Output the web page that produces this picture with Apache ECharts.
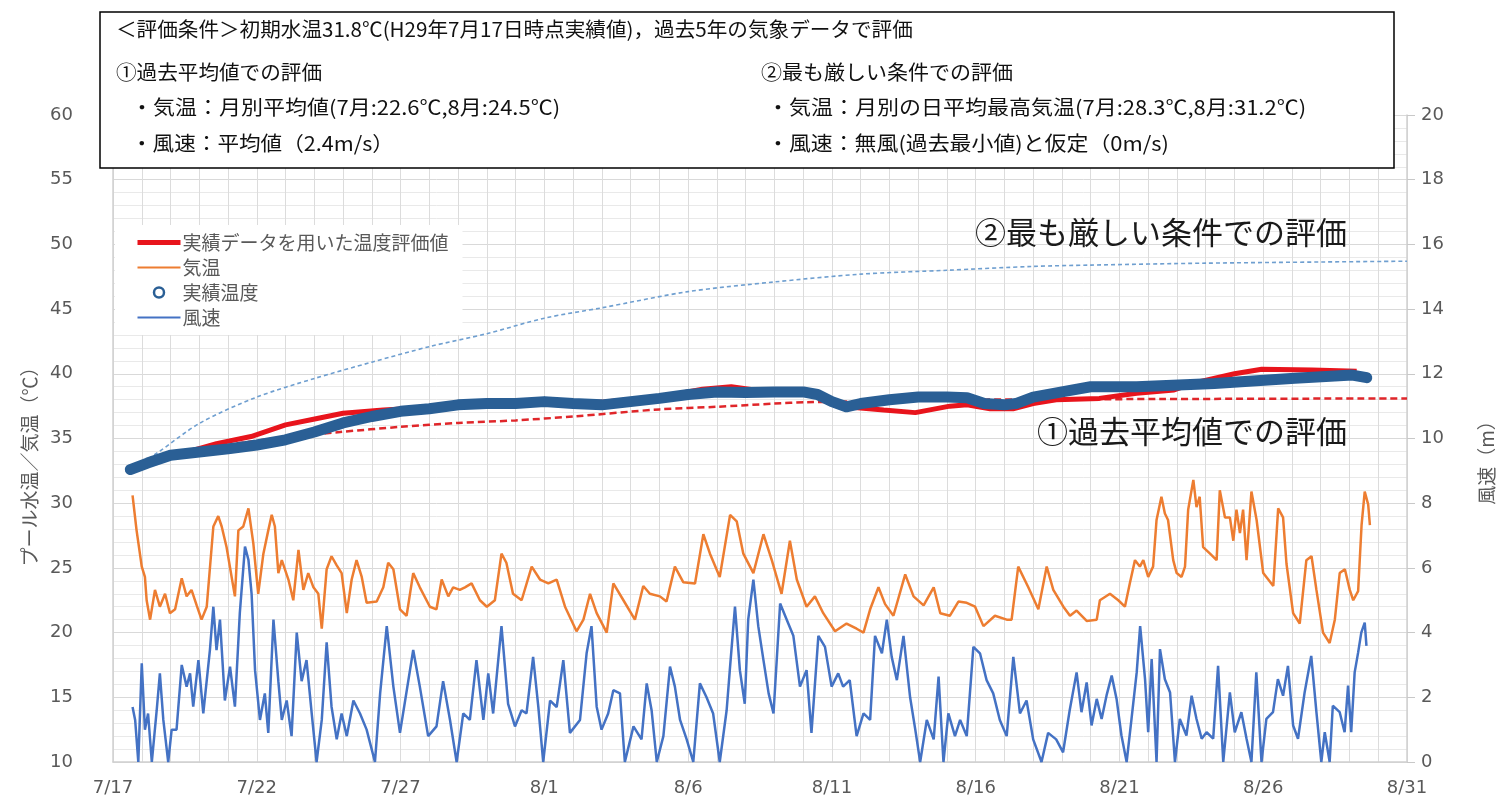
<!DOCTYPE html>
<html><head><meta charset="utf-8">
<script src="https://cdn.jsdelivr.net/npm/echarts@6/dist/echarts.min.js"></script>
<style>html,body{margin:0;padding:0;background:#fff}#c{width:1503px;height:811px}</style>
</head><body><div id="c"></div>
<script>
// x = days since 7/17
const tickLabels = ['7/17','7/22','7/27','8/1','8/6','8/11','8/16','8/21','8/26','8/31'];

const actualTemp = [[0.6,32.6],[1.2,33.1],[2.0,33.7],[3.0,33.95],[4.0,34.2],[5,34.5],[6,34.9],[7,35.5],[8,36.2],[9,36.7],[10,37.1],[11,37.3],[12,37.6],[13,37.7],[14,37.7],[15,37.85],[16,37.7],[17,37.6],[18,37.85],[19,38.1],[20,38.4],[21,38.6],[22,38.55],[23,38.6],[24,38.6],[24.5,38.4],[25,37.85],[25.5,37.45],[26,37.7],[27,38.0],[28,38.2],[29,38.2],[29.7,38.15],[30.3,37.7],[31,37.6],[31.4,37.7],[32,38.2],[33,38.6],[34,39.0],[35.6,39.0],[38.3,39.25],[41.1,39.65],[43.1,39.9],[43.6,39.7]];

const evalActual = [[0.6,32.6],[1.5,33.3],[2.5,33.9],[3.6,34.6],[4.8,35.15],[6.0,36.05],[7.1,36.55],[8.0,36.95],[9.4,37.2],[11,37.4],[13,37.6],[15,37.8],[17,37.8],[19,38.2],[20.5,38.8],[21.5,39.0],[22.5,38.7],[24,38.6],[25,38.0],[25.8,37.4],[26.8,37.2],[27.9,37.0],[29.1,37.5],[29.7,37.6],[30.5,37.3],[31.3,37.3],[32,37.7],[32.8,38.0],[34.3,38.1],[35.6,38.5],[36.9,38.75],[37.6,39.3],[39.0,40.0],[39.95,40.35],[41.7,40.3],[43.25,40.2]];

const averageEval = [[0.6,32.6],[2,33.6],[4,34.5],[6,35.1],[7.9,35.5],[10,35.9],[12,36.2],[14,36.4],[16,36.7],[19,37.25],[21,37.45],[23,37.7],[24.1,37.8],[27,37.9],[30,38.0],[36.4,38.05],[45,38.1]];

const severeEval = [[0.6,32.6],[1.52,33.86],[3.03,36.2],[5.0,38.2],[7.02,39.65],[9.0,40.9],[11.0,42.1],[13.0,43.1],[15.0,44.3],[17.0,45.1],[20.0,46.35],[23,47.1],[26,47.7],[29,48.0],[32,48.3],[34,48.4],[38,48.55],[45,48.7]];

const airTemp = [[0.68,30.6],[0.82,27.9],[1.0,25.1],[1.11,24.3],[1.17,22.5],[1.29,21.0],[1.46,23.3],[1.63,22.0],[1.81,23.0],[1.98,21.5],[2.16,21.8],[2.39,24.2],[2.56,22.8],[2.73,23.3],[2.91,22.1],[3.08,21.0],[3.26,22.0],[3.49,28.2],[3.66,29.0],[3.78,28.2],[3.95,26.6],[4.24,22.8],[4.36,27.9],[4.53,28.2],[4.71,29.6],[4.88,26.9],[5.05,23.0],[5.23,26.1],[5.40,27.9],[5.52,29.1],[5.63,28.2],[5.75,24.6],[5.87,25.6],[6.10,24.1],[6.27,22.5],[6.45,26.4],[6.62,23.3],[6.79,24.6],[6.97,23.5],[7.14,23.0],[7.26,20.3],[7.43,24.9],[7.60,25.9],[7.78,25.2],[7.95,24.6],[8.13,21.5],[8.30,24.1],[8.47,25.6],[8.65,24.3],[8.82,22.3],[9.17,22.4],[9.40,23.5],[9.57,25.4],[9.75,24.9],[9.98,21.8],[10.21,21.3],[10.44,24.6],[10.67,23.5],[11.02,22.0],[11.25,21.8],[11.43,24.1],[11.66,22.8],[11.83,23.5],[12.06,23.3],[12.24,23.5],[12.47,23.8],[12.76,22.5],[13.0,22.0],[13.28,22.5],[13.51,26.1],[13.68,25.4],[13.91,23.0],[14.21,22.5],[14.56,25.1],[14.85,24.1],[15.14,23.8],[15.43,24.1],[15.72,22.0],[16.12,20.1],[16.36,21.0],[16.59,23.0],[16.82,21.5],[17.17,20.0],[17.40,23.8],[17.75,22.5],[18.15,21.0],[18.44,23.6],[18.67,23.0],[19.02,22.8],[19.25,22.4],[19.54,25.1],[19.83,23.9],[20.24,23.8],[20.53,27.6],[20.76,26.1],[21.1,24.3],[21.46,29.1],[21.69,28.6],[21.92,26.1],[22.27,24.6],[22.62,27.6],[22.91,25.6],[23.25,23.0],[23.54,27.1],[23.78,24.1],[24.12,22.0],[24.41,22.8],[24.7,21.5],[25.11,20.1],[25.51,20.7],[25.86,20.3],[26.1,20.0],[26.33,21.8],[26.62,23.5],[26.85,22.2],[27.14,21.3],[27.55,24.5],[27.84,22.8],[28.19,22.1],[28.54,23.5],[28.77,21.5],[29.1,21.3],[29.4,22.4],[29.69,22.3],[29.98,22.0],[30.27,20.5],[30.67,21.3],[31.08,21.0],[31.25,21.0],[31.48,25.1],[31.83,23.5],[32.18,21.8],[32.47,25.1],[32.7,23.3],[33.05,22.0],[33.28,21.3],[33.51,21.7],[33.86,20.9],[34.21,21.0],[34.32,22.5],[34.67,23.0],[34.96,22.5],[35.19,22.0],[35.36,23.8],[35.54,25.6],[35.71,25.1],[35.83,25.6],[36.0,24.3],[36.17,25.1],[36.29,28.7],[36.46,30.5],[36.58,29.2],[36.69,28.7],[36.87,25.6],[36.99,24.6],[37.16,24.3],[37.28,25.1],[37.39,29.5],[37.57,31.8],[37.68,29.7],[37.79,30.5],[37.91,26.6],[38.15,26.1],[38.38,25.6],[38.49,31.0],[38.67,28.9],[38.84,28.9],[38.96,27.1],[39.07,29.5],[39.19,27.7],[39.3,29.5],[39.42,25.6],[39.59,30.9],[39.77,28.7],[40.0,24.6],[40.35,23.6],[40.52,29.6],[40.69,28.9],[40.81,25.3],[41.04,21.5],[41.27,20.7],[41.5,25.6],[41.68,25.9],[41.85,23.3],[42.08,20.0],[42.31,19.2],[42.49,21.0],[42.66,24.6],[42.84,24.9],[43.01,23.3],[43.13,22.5],[43.3,23.2],[43.42,28.3],[43.53,30.9],[43.65,29.9],[43.71,28.3]];

const windSpeed = [[0.68,1.7],[0.77,1.3],[0.88,0],[1.0,3.05],[1.11,1.0],[1.22,1.5],[1.35,0],[1.52,1.6],[1.63,2.74],[1.75,1.3],[1.92,0],[2.04,1.0],[2.21,1.0],[2.39,3.0],[2.56,2.33],[2.68,2.74],[2.79,1.71],[2.97,3.15],[3.14,1.5],[3.37,3.46],[3.49,4.8],[3.6,3.46],[3.72,4.4],[3.89,1.9],[4.07,2.95],[4.24,1.71],[4.41,4.6],[4.59,6.66],[4.71,6.25],[4.82,5.2],[4.94,2.84],[5.11,1.3],[5.28,2.12],[5.4,0.9],[5.58,4.4],[5.75,2.5],[5.87,1.3],[6.04,1.9],[6.21,0.8],[6.39,4.0],[6.56,2.5],[6.73,3.15],[6.91,1.5],[7.08,0],[7.26,1.3],[7.43,3.7],[7.6,1.71],[7.78,0.7],[7.95,1.5],[8.13,0.8],[8.36,1.9],[8.59,1.5],[8.82,1.0],[9.11,0],[9.29,2.12],[9.52,4.2],[9.75,2.33],[9.98,0.9],[10.44,3.46],[10.67,2.33],[10.96,0.8],[11.25,1.1],[11.48,2.5],[11.72,1.3],[11.95,0],[12.18,1.5],[12.41,1.3],[12.64,3.15],[12.88,1.3],[13.05,2.74],[13.22,1.5],[13.51,4.2],[13.74,1.8],[13.98,1.1],[14.21,1.6],[14.38,1.5],[14.61,3.25],[14.79,1.71],[14.96,0],[15.2,1.9],[15.43,1.7],[15.66,3.15],[15.89,0.9],[16.24,1.3],[16.47,3.36],[16.64,4.2],[16.82,1.71],[16.99,1.0],[17.22,1.5],[17.4,2.22],[17.63,2.12],[17.8,0],[18.1,1.1],[18.38,0.7],[18.56,2.43],[18.73,1.6],[18.91,0],[19.14,0.8],[19.37,2.95],[19.54,2.33],[19.72,1.3],[19.95,0.7],[20.18,0],[20.41,2.43],[20.64,2.0],[20.87,1.5],[21.1,0],[21.34,1.6],[21.45,2.84],[21.63,4.8],[21.8,2.84],[21.97,1.8],[22.09,4.4],[22.27,5.64],[22.44,4.2],[22.62,3.15],[22.8,2.12],[22.97,1.5],[23.2,4.9],[23.43,4.4],[23.66,3.9],[23.89,2.33],[24.12,2.84],[24.29,0.9],[24.53,3.9],[24.76,3.56],[24.99,2.33],[25.22,2.74],[25.39,2.33],[25.62,2.53],[25.86,0.8],[26.1,1.5],[26.33,1.3],[26.5,3.9],[26.74,3.36],[26.91,4.4],[27.08,3.25],[27.26,2.53],[27.49,3.9],[27.72,2.0],[27.9,1.0],[28.07,0],[28.3,1.3],[28.54,0.7],[28.71,2.64],[28.88,0],[29.05,1.5],[29.28,0.8],[29.46,1.3],[29.69,0.8],[29.92,3.56],[30.15,3.36],[30.38,2.53],[30.61,2.12],[30.84,1.3],[31.08,0.8],[31.31,3.25],[31.54,1.5],[31.77,1.9],[32.0,0.7],[32.29,0],[32.52,0.9],[32.8,0.7],[33.04,0.3],[33.27,1.6],[33.51,2.77],[33.68,1.54],[33.86,2.46],[34.03,1.13],[34.21,1.95],[34.38,1.33],[34.55,2.05],[34.73,2.67],[34.9,1.95],[35.07,0.82],[35.25,0],[35.42,1.33],[35.6,2.77],[35.72,4.2],[35.89,2.56],[36.0,0.92],[36.12,3.18],[36.29,0],[36.41,3.49],[36.58,2.56],[36.76,2.15],[36.93,0],[37.1,1.33],[37.33,0.82],[37.51,2.05],[37.68,1.33],[37.86,0.72],[38.03,0.92],[38.26,0.72],[38.43,2.97],[38.61,0],[38.84,2.15],[39.01,0.92],[39.24,1.54],[39.42,0.72],[39.59,0],[39.76,2.77],[39.94,0],[40.11,1.33],[40.34,1.54],[40.51,2.56],[40.69,2.05],[40.86,2.97],[41.04,1.13],[41.21,0.72],[41.44,2.15],[41.67,3.28],[41.85,1.54],[42.02,0],[42.14,0.92],[42.31,0],[42.42,1.74],[42.66,1.54],[42.83,0.92],[42.95,2.36],[43.06,0.92],[43.18,2.77],[43.3,3.38],[43.41,4.0],[43.53,4.31],[43.59,3.59]];

const NUM = 'DejaVu Sans';
const JP = '"Noto Sans CJK JP", sans-serif';
const GREY = '#595959';

function boxText(x, y, text, sx) {
  return {type: 'text', z: 101, x: x, y: y, scaleX: sx,
    style: {text: text, font: '20px ' + JP, fill: '#111', verticalAlign: 'middle'}};
}

const chart = echarts.init(document.getElementById('c'), null, {renderer: 'canvas'});
const option = {
  animation: false,
  backgroundColor: '#fff',
  grid: {left: 113, right: 96, top: 115, bottom: 49},
  xAxis: {
    type: 'value', min: 0, max: 45, interval: 5,
    axisLine: {show: true, lineStyle: {color: '#d0d0d0', width: 1.5}},
    axisTick: {show: false},
    axisLabel: {margin: 17, color: GREY, fontFamily: NUM, fontSize: 18,
      formatter: v => tickLabels[Math.round(v / 5)]},
    splitLine: {show: true, lineStyle: {color: '#dcdcdc', width: 1}},
    minorTick: {show: false, splitNumber: 5},
    minorSplitLine: {show: true, lineStyle: {color: '#dcdcdc', width: 1}}
  },
  yAxis: [{
    type: 'value', min: 10, max: 60, interval: 5, position: 'left',
    axisLine: {show: true, lineStyle: {color: '#d0d0d0', width: 1.5}},
    axisTick: {show: false},
    axisLabel: {margin: 40, color: GREY, fontFamily: NUM, fontSize: 18},
    splitLine: {show: true, lineStyle: {color: '#d9d9d9', width: 1}},
    minorTick: {show: false, splitNumber: 5},
    minorSplitLine: {show: true, lineStyle: {color: '#e9e9e9', width: 1}}
  }, {
    type: 'value', min: 0, max: 20, interval: 2, position: 'right',
    axisLine: {show: true, lineStyle: {color: '#d0d0d0', width: 1.5}},
    axisTick: {show: true, length: 8, lineStyle: {color: '#c8c8c8'}},
    axisLabel: {margin: 14, color: GREY, fontFamily: NUM, fontSize: 18},
    splitLine: {show: false}
  }],
  legend: {
    orient: 'vertical', left: 115, top: 225, z: 20,
    backgroundColor: '#fff', padding: [8, 14, 8, 20], itemGap: 6,
    itemWidth: 43, itemHeight: 10, selectedMode: false,
    textStyle: {color: GREY, fontFamily: JP, fontSize: 19, padding: [0, 0, 0, -3]},
    data: [
      {name: '実績データを用いた温度評価値', itemStyle: {opacity: 0}, lineStyle: {width: 5, color: '#e8141c'}},
      {name: '気温', itemStyle: {opacity: 0}, lineStyle: {width: 2, color: '#ed7d31'}},
      {name: '実績温度', icon: 'circle', itemStyle: {color: '#ffffff', borderColor: '#2a5f95', borderWidth: 2.5}},
      {name: '風速', itemStyle: {opacity: 0}, lineStyle: {width: 2, color: '#4472c4'}}
    ]
  },
  series: [
    {name: '気温', type: 'line', data: airTemp, yAxisIndex: 0, symbol: 'none', z: 2,
     lineStyle: {color: '#ed7d31', width: 2.5}, itemStyle: {color: '#ed7d31'}},
    {name: '風速', type: 'line', data: windSpeed, yAxisIndex: 1, symbol: 'none', z: 3,
     lineStyle: {color: '#4472c4', width: 2.5}, itemStyle: {color: '#4472c4'}},
    {name: '②最も厳しい条件での評価', type: 'line', data: severeEval, yAxisIndex: 0, symbol: 'none', smooth: 0.3, z: 4,
     lineStyle: {color: '#6f9fd0', width: 1.6, type: [4, 3]}, itemStyle: {color: '#6f9fd0'}},
    {name: '①過去平均値での評価', type: 'line', data: averageEval, yAxisIndex: 0, symbol: 'none', smooth: 0.3, z: 5,
     lineStyle: {color: '#e0262a', width: 2.5, type: [7, 4]}, itemStyle: {color: '#e0262a'}},
    {name: '実績データを用いた温度評価値', type: 'line', data: evalActual, yAxisIndex: 0, symbol: 'none', z: 6,
     lineStyle: {color: '#e8141c', width: 5}, itemStyle: {color: '#e8141c'}},
    {name: '実績温度', type: 'line', data: actualTemp, yAxisIndex: 0, symbol: 'none', z: 7,
     lineStyle: {color: '#2a5f95', width: 11, cap: 'round', join: 'round'}, itemStyle: {color: '#2a5f95'}}
  ],
  graphic: [
    {type: 'rect', z: 100, shape: {x: 100, y: 12, width: 1294, height: 156},
     style: {fill: '#fff', stroke: '#000', lineWidth: 1.5}},
    boxText(116, 29, '＜評価条件＞初期水温31.8℃(H29年7月17日時点実績値)，過去5年の気象データで評価', 1.03),
    boxText(116, 72, '①過去平均値での評価', 1.03),
    boxText(761, 72, '②最も厳しい条件での評価', 1.05),
    boxText(131, 107, '・気温：月別平均値(7月:22.6℃,8月:24.5℃)', 1.10),
    boxText(767, 107, '・気温：月別の日平均最高気温(7月:28.3℃,8月:31.2℃)', 1.10),
    boxText(131, 143, '・風速：平均値（2.4m/s）', 1.08),
    boxText(767, 143, '・風速：無風(過去最小値)と仮定（0m/s)', 1.095),
    {type: 'text', z: 101, x: 975, y: 232, style: {text: '②最も厳しい条件での評価', font: '31px ' + JP, fill: '#1a1a1a', verticalAlign: 'middle'}},
    {type: 'text', z: 101, x: 1037, y: 431, style: {text: '①過去平均値での評価', font: '31px ' + JP, fill: '#1a1a1a', verticalAlign: 'middle'}},
    {type: 'text', z: 50, x: 30, y: 462, rotation: Math.PI / 2,
     style: {text: 'プール水温／気温（℃）', font: '19px ' + JP, fill: GREY, align: 'center', verticalAlign: 'middle'}},
    {type: 'text', z: 50, x: 1487, y: 458, rotation: Math.PI / 2,
     style: {text: '風速（m）', font: '19px ' + JP, fill: GREY, align: 'center', verticalAlign: 'middle'}}
  ]
};
chart.setOption(option);
</script>
</body></html>
